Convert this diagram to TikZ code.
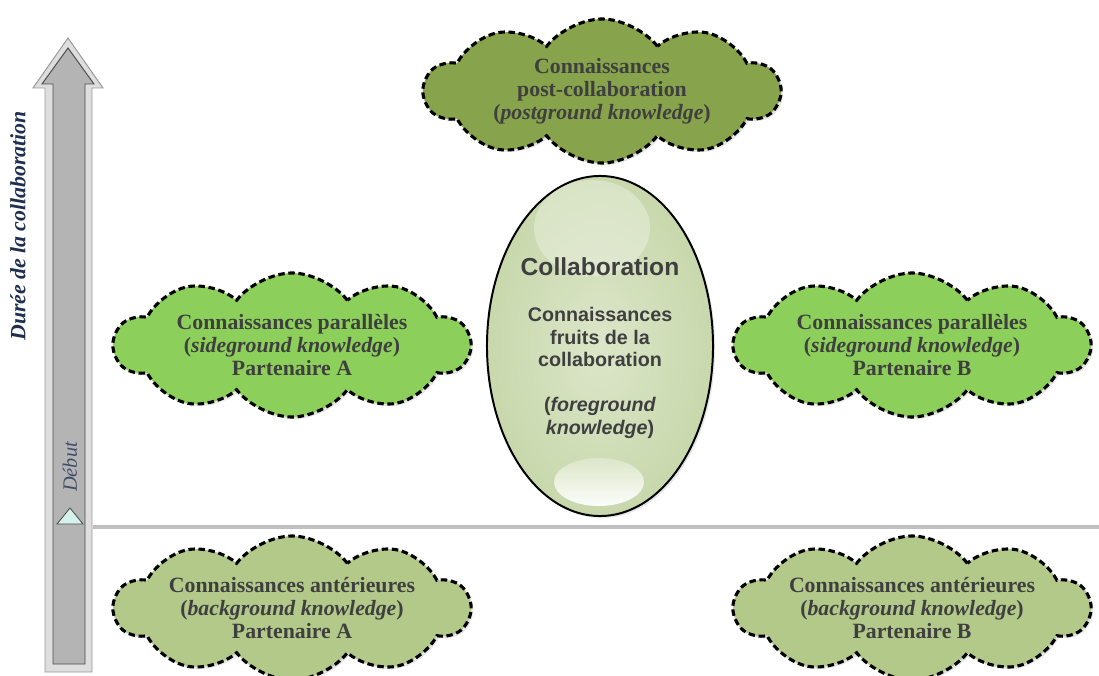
\documentclass[tikz,border=0pt]{standalone}
\usepackage{fontspec}
\setmainfont{Liberation Serif}
\newfontfamily\arialfont{Liberation Sans}
\usetikzlibrary{shapes.symbols}
\usetikzlibrary{shapes.geometric}
\usetikzlibrary{shadows}
\usetikzlibrary{positioning}
\definecolor{postknow}{HTML}{87A34B}
\definecolor{sideknow}{HTML}{8CCF5A}
\definecolor{backknow}{HTML}{B3C98A}
\definecolor{knowtext}{HTML}{3F3F3F}
\definecolor{timeaxis}{HTML}{1F2F4F}
\definecolor{arrowout}{HTML}{DEDEDE}
\definecolor{arrowin}{HTML}{B4B4B4}
\definecolor{startmark}{HTML}{D6F2EC}
\definecolor{eggin}{HTML}{DCE6C9}
\definecolor{eggout}{HTML}{C8D8AC}
\tikzset{
  knowcloud/.style={cloud, cloud puffs=10, cloud puff arc=105, cloud ignores aspect,
    minimum width=8.875cm, minimum height=3.6cm, draw=black, line width=2.2pt,
    dash pattern=on 4.6pt off 2.6pt,
    drop shadow={shadow xshift=1.5pt, shadow yshift=-1.5pt, opacity=.2}},
  knowlabel/.style={align=center, text=knowtext, font=\fontsize{15.5}{16.4}\selectfont\bfseries},
  egglabel/.style={align=center, text=knowtext, font=\arialfont\fontsize{14}{16}\selectfont\bfseries}
}
\begin{document}
\begin{tikzpicture}[x=0.025cm, y=-0.025cm]
  \useasboundingbox (0,0) rectangle (1099,676);

  % time arrow
  \draw[fill=arrowout, draw=gray!80, line width=0.7pt] (45,672) -- (92,672) -- (92,88) -- (103,88) -- (68,38) -- (33,88) -- (45,88) -- cycle;
  \draw[fill=arrowin, draw=black!70, line width=0.7pt] (53,664) -- (85,664) -- (85,84) -- (94,84) -- (68,48) -- (42,84) -- (53,84) -- cycle;
  \node[rotate=90, text=timeaxis, font=\fontsize{15.5}{18}\selectfont\bfseries\itshape] (duree) at (18,226) {Durée de la collaboration};
  \node[rotate=90, text=timeaxis!85, font=\fontsize{14.5}{16}\selectfont\itshape] (debut) at (70,467) {Début};
  \draw[fill=startmark, draw=black!70, line width=0.6pt] (57,524) -- (83,524) -- (70,508) -- cycle;

  % start line
  \coordinate (linestart) at (93,527);
  \coordinate (lineend) at (1099,527);
  \draw[line width=2.4pt, color=gray!50] (linestart) -- (lineend);

  % clouds
  \node[knowcloud, fill=postknow] (cpost) at (602,91) {};
  \node[knowlabel] (tpost) at (cpost.center) {Connaissances\\post-collaboration\\(\textit{postground knowledge})};

  \node[knowcloud, fill=sideknow] (csideA) at (292,345) {};
  \node[knowlabel] (tsideA) at (csideA.center) {Connaissances parallèles\\(\textit{sideground knowledge})\\Partenaire A};
  \node[knowcloud, fill=sideknow] (csideB) at (912,345) {};
  \node[knowlabel] (tsideB) at (csideB.center) {Connaissances parallèles\\(\textit{sideground knowledge})\\Partenaire B};

  \node[knowcloud, fill=backknow] (cbackA) at (292,608) {};
  \node[knowlabel] (tbackA) at (cbackA.center) {Connaissances antérieures\\(\textit{background knowledge})\\Partenaire A};
  \node[knowcloud, fill=backknow] (cbackB) at (912,608) {};
  \node[knowlabel] (tbackB) at (cbackB.center) {Connaissances antérieures\\(\textit{background knowledge})\\Partenaire B};

  % collaboration egg
  \node[ellipse, minimum width=5.65cm, minimum height=8.5cm, draw=black, line width=1.4pt,
    inner color=eggin, outer color=eggout,
    drop shadow={shadow xshift=1.5pt, shadow yshift=-1.5pt, opacity=.2}] (egg) at (600,346) {};
  \fill[white, opacity=.3] (592,228) ellipse [x radius=1.45cm, y radius=1.2cm];
  \shade[top color=eggin, bottom color=white!94!eggout] (599,482) ellipse [x radius=1.125cm, y radius=0.6cm];
  \node[egglabel] (tegg) at (600,348) {{\fontsize{17.5}{20}\selectfont Collaboration}\\[17pt]Connaissances\\fruits de la\\collaboration\\[16pt](\textit{foreground}\\\textit{knowledge})};
\end{tikzpicture}
\end{document}
